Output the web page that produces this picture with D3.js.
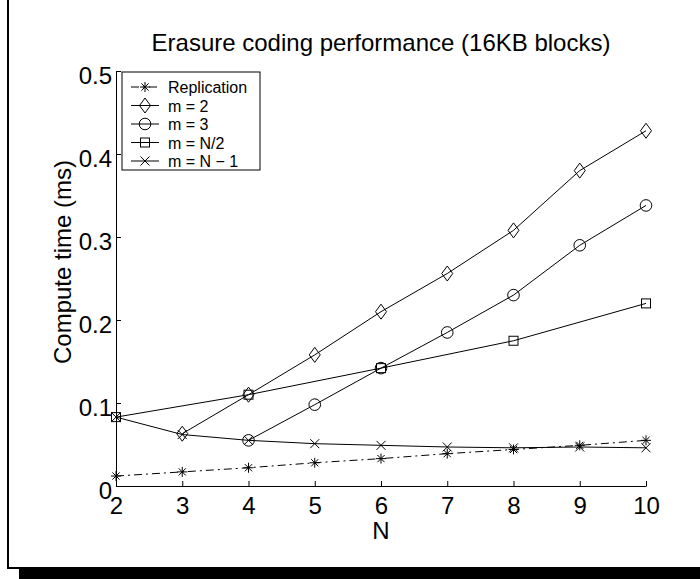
<!DOCTYPE html>
<html>
<head>
<meta charset="utf-8">
<script src="https://cdn.jsdelivr.net/npm/d3@7"></script>
<style>
  body { margin: 0; background: #fff; }
  svg { display: block; font-family: "Liberation Sans", Arial, sans-serif; }
  .axis path, .axis line { stroke: #000; stroke-width: 1; }
  .axis text { font-size: 24px; fill: #000; }
</style>
</head>
<body>
<div id="chart"></div>
<script>
// data
const nValues = [2, 3, 4, 5, 6, 7, 8, 9, 10];
const replication = [0.012, 0.017, 0.022, 0.028, 0.033, 0.039, 0.044, 0.049, 0.055];
const m2N = [3, 4, 5, 6, 7, 8, 9, 10];
const m2 = [0.063, 0.110, 0.158, 0.210, 0.256, 0.308, 0.380, 0.428];
const m3N = [4, 5, 6, 7, 8, 9, 10];
const m3 = [0.055, 0.098, 0.142, 0.185, 0.230, 0.290, 0.338];
const halfN = [2, 4, 6, 8, 10];
const mHalf = [0.083, 0.110, 0.142, 0.175, 0.220];
const mLast = [0.083, 0.062, 0.055, 0.051, 0.049, 0.047, 0.046, 0.047, 0.046];
const xTicks = [2, 3, 4, 5, 6, 7, 8, 9, 10];
const yTicks = [0, 0.1, 0.2, 0.3, 0.4, 0.5];

const W = 700, H = 579;
const margin = { top: 71, right: 54, bottom: 93, left: 116 };
const width = W - margin.left - margin.right;
const height = H - margin.top - margin.bottom;

const root = d3.select("#chart")
  .append("svg")
  .attr("width", W)
  .attr("height", H);

// figure frame with shadow band at the bottom
root.append("line").attr("x1", 8).attr("x2", 8).attr("y1", 0).attr("y2", 569)
  .attr("stroke", "#000").attr("stroke-width", 2);
root.append("line").attr("x1", 7).attr("x2", W).attr("y1", 568).attr("y2", 568)
  .attr("stroke", "#000").attr("stroke-width", 2);
root.append("rect").attr("x", 19).attr("y", 569).attr("width", W - 19).attr("height", 10)
  .attr("fill", "#000");

const svg = root.append("g")
  .attr("transform", `translate(${margin.left},${margin.top})`);

const x = d3.scaleLinear().domain([2, 10]).range([0, width]);
const y = d3.scaleLinear().domain([0, 0.5]).range([height, 0]);

// axes, ticks pointing inwards
const xAxis = svg.append("g")
  .attr("class", "axis")
  .attr("transform", `translate(0,${height})`)
  .call(d3.axisBottom(x).tickValues(xTicks).tickSizeInner(-5).tickSizeOuter(0).tickPadding(11));
xAxis.selectAll("text").attr("dy", "0.71em");

const yAxis = svg.append("g")
  .attr("class", "axis")
  .call(d3.axisLeft(y).tickValues(yTicks).tickFormat(d => d === 0 ? "0" : d3.format(".1f")(d))
    .tickSizeInner(-5).tickSizeOuter(0).tickPadding(4));
yAxis.selectAll("text").attr("dy", "0.5em");

// titles
root.append("text")
  .attr("x", margin.left + width / 2)
  .attr("y", 51)
  .attr("text-anchor", "middle")
  .style("font-size", "24px")
  .text("Erasure coding performance (16KB blocks)");

root.append("text")
  .attr("x", margin.left + width / 2)
  .attr("y", 539)
  .attr("text-anchor", "middle")
  .style("font-size", "24px")
  .text("N");

root.append("text")
  .attr("transform", `translate(71,262) rotate(-90)`)
  .attr("text-anchor", "middle")
  .style("font-size", "24px")
  .text("Compute time (ms)");

// marker shapes
const markers = {
  star: (g) => {
    g.append("path").attr("d", "M-5,0H5M0,-5V5M-3.6,-3.6L3.6,3.6M-3.6,3.6L3.6,-3.6");
  },
  diamond: (g) => {
    g.append("path").attr("d", "M0,-7.5L5.5,0L0,7.5L-5.5,0Z");
  },
  circle: (g) => {
    g.append("circle").attr("r", 5.8);
  },
  square: (g) => {
    g.append("rect").attr("x", -4.5).attr("y", -4.5).attr("width", 9).attr("height", 9);
  },
  cross: (g) => {
    g.append("path").attr("d", "M-4.5,-4.5L4.5,4.5M-4.5,4.5L4.5,-4.5");
  }
};

const series = [
  { name: "Replication", xs: nValues, ys: replication, marker: "star", dash: "8,4,2,4" },
  { name: "m = 2", xs: m2N, ys: m2, marker: "diamond", dash: null },
  { name: "m = 3", xs: m3N, ys: m3, marker: "circle", dash: null },
  { name: "m = N/2", xs: halfN, ys: mHalf, marker: "square", dash: null },
  { name: "m = N \u2212 1", xs: nValues, ys: mLast, marker: "cross", dash: null }
];

const line = d3.line()
  .x(d => x(d[0]))
  .y(d => y(d[1]));

series.forEach(s => {
  const pts = s.xs.map((n, i) => [n, s.ys[i]]);
  svg.append("path")
    .attr("d", line(pts))
    .attr("fill", "none")
    .attr("stroke", "#000")
    .attr("stroke-width", 1)
    .attr("stroke-dasharray", s.dash);

  svg.append("g").selectAll("g")
    .data(pts)
    .enter().append("g")
    .attr("transform", d => `translate(${x(d[0])},${y(d[1])})`)
    .attr("fill", "none")
    .attr("stroke", "#000")
    .attr("stroke-width", 1)
    .each(function () { markers[s.marker](d3.select(this)); });
});

// legend
const legend = root.append("g").attr("transform", "translate(122,72)");
legend.append("rect")
  .attr("width", 138).attr("height", 98)
  .attr("fill", "#fff").attr("stroke", "#000").attr("stroke-width", 1);

series.forEach((s, i) => {
  const row = legend.append("g").attr("transform", `translate(0,${15 + i * 18.5})`);
  row.append("line")
    .attr("x1", 9).attr("x2", 37)
    .attr("stroke", "#000").attr("stroke-dasharray", s.dash);
  const mk = row.append("g").attr("transform", "translate(23,0)")
    .attr("fill", "none").attr("stroke", "#000");
  markers[s.marker](mk);
  row.append("text")
    .attr("x", 46).attr("y", 6)
    .style("font-size", "16px")
    .text(s.name);
});
</script>
</body>
</html>
